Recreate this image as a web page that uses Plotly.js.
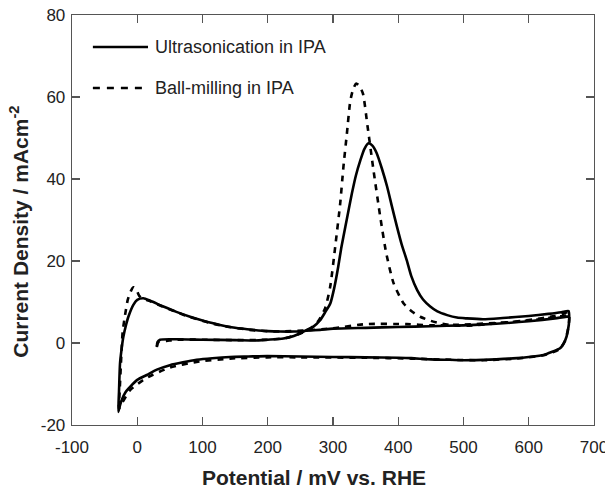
<!DOCTYPE html>
<html>
<head>
<meta charset="utf-8">
<script src="https://cdn.plot.ly/plotly-3.0.1.min.js"></script>
<style>html,body{margin:0;padding:0;background:#fff;}#chart{width:605px;height:488px;}</style>
</head>
<body>
<div id="chart"></div>
<script>
// Ultrasonication in IPA (solid) — potential (mV vs RHE) and current density (mA cm^-2)
var ultraX = [30,31,35,60,100,150,180,200,224,240,255,270,280,288,296,302,308,313,319,324,329,335,342,348,354.5,360,367,375,383,390,398,405,413,420,429,438,449,460,475,490,505,530,560,600,630,650,661,662,660,656,648,635,623,600,582,550,531,500,480,450,420,400,350,300,250,199,170,142,115,91,70,50,30,14.5,0,-11,-18,-23.8,-27,-29,-28,-26.4,-24,-21.3,-17,-13.6,-6,0,9.4,20,40,60,81,100,127,150,178,200,219,240,260,280,300,350,400,450,500,550,600,640,661];
var ultraY = [-1.0,0.2,0.8,0.9,0.8,0.7,0.6,0.8,1.1,1.7,2.8,4.0,5.5,7.5,9.7,13.5,18.6,23.5,28.4,32.5,36.5,40.8,44.6,47.3,48.7,48.2,46.3,42.5,38.1,33.5,28.4,24.2,20.2,16.3,12.9,10.6,8.9,7.7,6.8,6.2,6.0,5.8,6.1,6.6,7.1,7.5,7.8,6.0,3.0,0.7,-1.3,-2.2,-2.9,-3.4,-3.7,-4.0,-4.1,-4.2,-4.1,-4.0,-3.7,-3.6,-3.5,-3.4,-3.3,-3.2,-3.3,-3.4,-3.7,-4.1,-4.7,-5.4,-6.5,-7.8,-9.0,-10.7,-12.0,-13.9,-15.5,-16.8,-12.0,-5.0,-1.5,1.5,4.5,6.4,9.3,10.5,10.9,10.3,8.9,7.6,6.4,5.5,4.4,3.7,3.2,2.9,2.8,2.8,3.0,3.2,3.5,3.7,3.9,4.1,4.3,4.7,5.3,6.0,6.5];

// Ball-milling in IPA (dashed)
var ballX = [30,33,45,60,100,150,200,230,250,265,278,288,295.7,303.4,311,316,321.3,326.4,331,335.6,340,345.8,353,362,372.4,381.6,392.8,408,420,433.7,450,464.4,485,505,550,600,640,661,662,659,655,647,622,580,530,480,420,350,250,199,142,91,50,14.5,-11,-23.8,-28,-27,-25,-22.3,-18.7,-14.6,-10,-6,-2,3,9,20,40,81,127,178,219,260,300,350,413,450,500,550,600,661];
var ballY = [-0.8,0.3,0.5,0.8,0.8,0.7,0.8,1.3,2.3,3.5,5.5,8.5,13.7,23.5,34.0,43.0,51.1,58.9,62.0,63.3,62.8,60.9,52.8,42.2,30.8,21.9,14.6,9.7,7.8,6.4,5.4,4.8,4.3,4.2,4.8,5.6,6.6,7.5,5.5,2.5,0.3,-1.5,-3.0,-3.8,-4.2,-4.1,-3.8,-3.6,-3.5,-3.5,-3.8,-4.6,-6.0,-8.5,-11.5,-14.8,-16.0,-12.0,-5.0,2.8,6.8,10.5,12.6,13.6,13.2,11.5,10.8,10.2,8.8,6.3,4.3,3.1,2.8,3.1,3.6,4.6,4.6,4.3,4.5,4.9,5.5,6.8];

var seriesNames = ["Ultrasonication in IPA", "Ball-milling in IPA"];
var xTickVals = [-100,0,100,200,300,400,500,600,700];
var xTickText = ["-100","0","100","200","300","400","500","600","700"];
var yTickVals = [-20,0,20,40,60,80];
var yTickText = ["-20","0","20","40","60","80"];

var FONT = "Liberation Sans, Arial, Helvetica, sans-serif";

var traces = [
  {x: ultraX, y: ultraY, mode: "lines", name: seriesNames[0],
   line: {color: "#000", width: 2.6, shape: "spline", smoothing: 0.6}, showlegend: false},
  {x: ballX, y: ballY, mode: "lines", name: seriesNames[1],
   line: {color: "#000", width: 2.6, dash: "6px,6px", shape: "spline", smoothing: 0.6}, showlegend: false}
];

var axisCommon = {
  showgrid: false, zeroline: false, showline: true, linecolor: "#555", linewidth: 1.3,
  mirror: "ticks", ticks: "inside", ticklen: 8, tickwidth: 1.3, tickcolor: "#555",
  tickfont: {family: FONT, size: 17, color: "#222"}, ticklabeloverflow: "allow"
};

var layout = {
  width: 605, height: 488,
  margin: {l: 72, r: 11, t: 15, b: 63},
  paper_bgcolor: "#fff", plot_bgcolor: "#fff",
  showlegend: false,
  xaxis: Object.assign({}, axisCommon, {range: [-100, 700], tickvals: xTickVals, ticktext: xTickText, ticklabelstandoff: 6}),
  yaxis: Object.assign({}, axisCommon, {range: [-20, 80], tickvals: yTickVals, ticktext: yTickText, ticklabelstandoff: 2}),
  shapes: [
    {type: "line", xref: "paper", yref: "paper", x0: 0.040, x1: 0.1456, y0: 0.922, y1: 0.922,
     line: {color: "#000", width: 2.6}},
    {type: "line", xref: "paper", yref: "paper", x0: 0.040, x1: 0.1456, y0: 0.822, y1: 0.822,
     line: {color: "#000", width: 2.6, dash: "7px,7px"}}
  ],
  annotations: [
    {xref: "paper", yref: "paper", x: 0.155, y: 0.922, xanchor: "left", yanchor: "middle", showarrow: false,
     text: seriesNames[0], font: {family: FONT, size: 18, color: "#222"}},
    {xref: "paper", yref: "paper", x: 0.155, y: 0.822, xanchor: "left", yanchor: "middle", showarrow: false,
     text: seriesNames[1], font: {family: FONT, size: 18, color: "#222"}},
    {xref: "paper", yref: "paper", x: 0.4636, y: -0.128, xanchor: "center", yanchor: "middle", showarrow: false,
     text: "<b>Potential / mV vs. RHE</b>", font: {family: FONT, size: 21, color: "#222"}},
    {xref: "paper", yref: "paper", x: -0.102, y: 0.4707, xanchor: "center", yanchor: "middle", showarrow: false,
     textangle: -90, text: "<b>Current Density / mAcm<sup>-2</sup></b>", font: {family: FONT, size: 21, color: "#222"}}
  ]
};

Plotly.newPlot("chart", traces, layout, {staticPlot: true, displayModeBar: false});
</script>
</body>
</html>
